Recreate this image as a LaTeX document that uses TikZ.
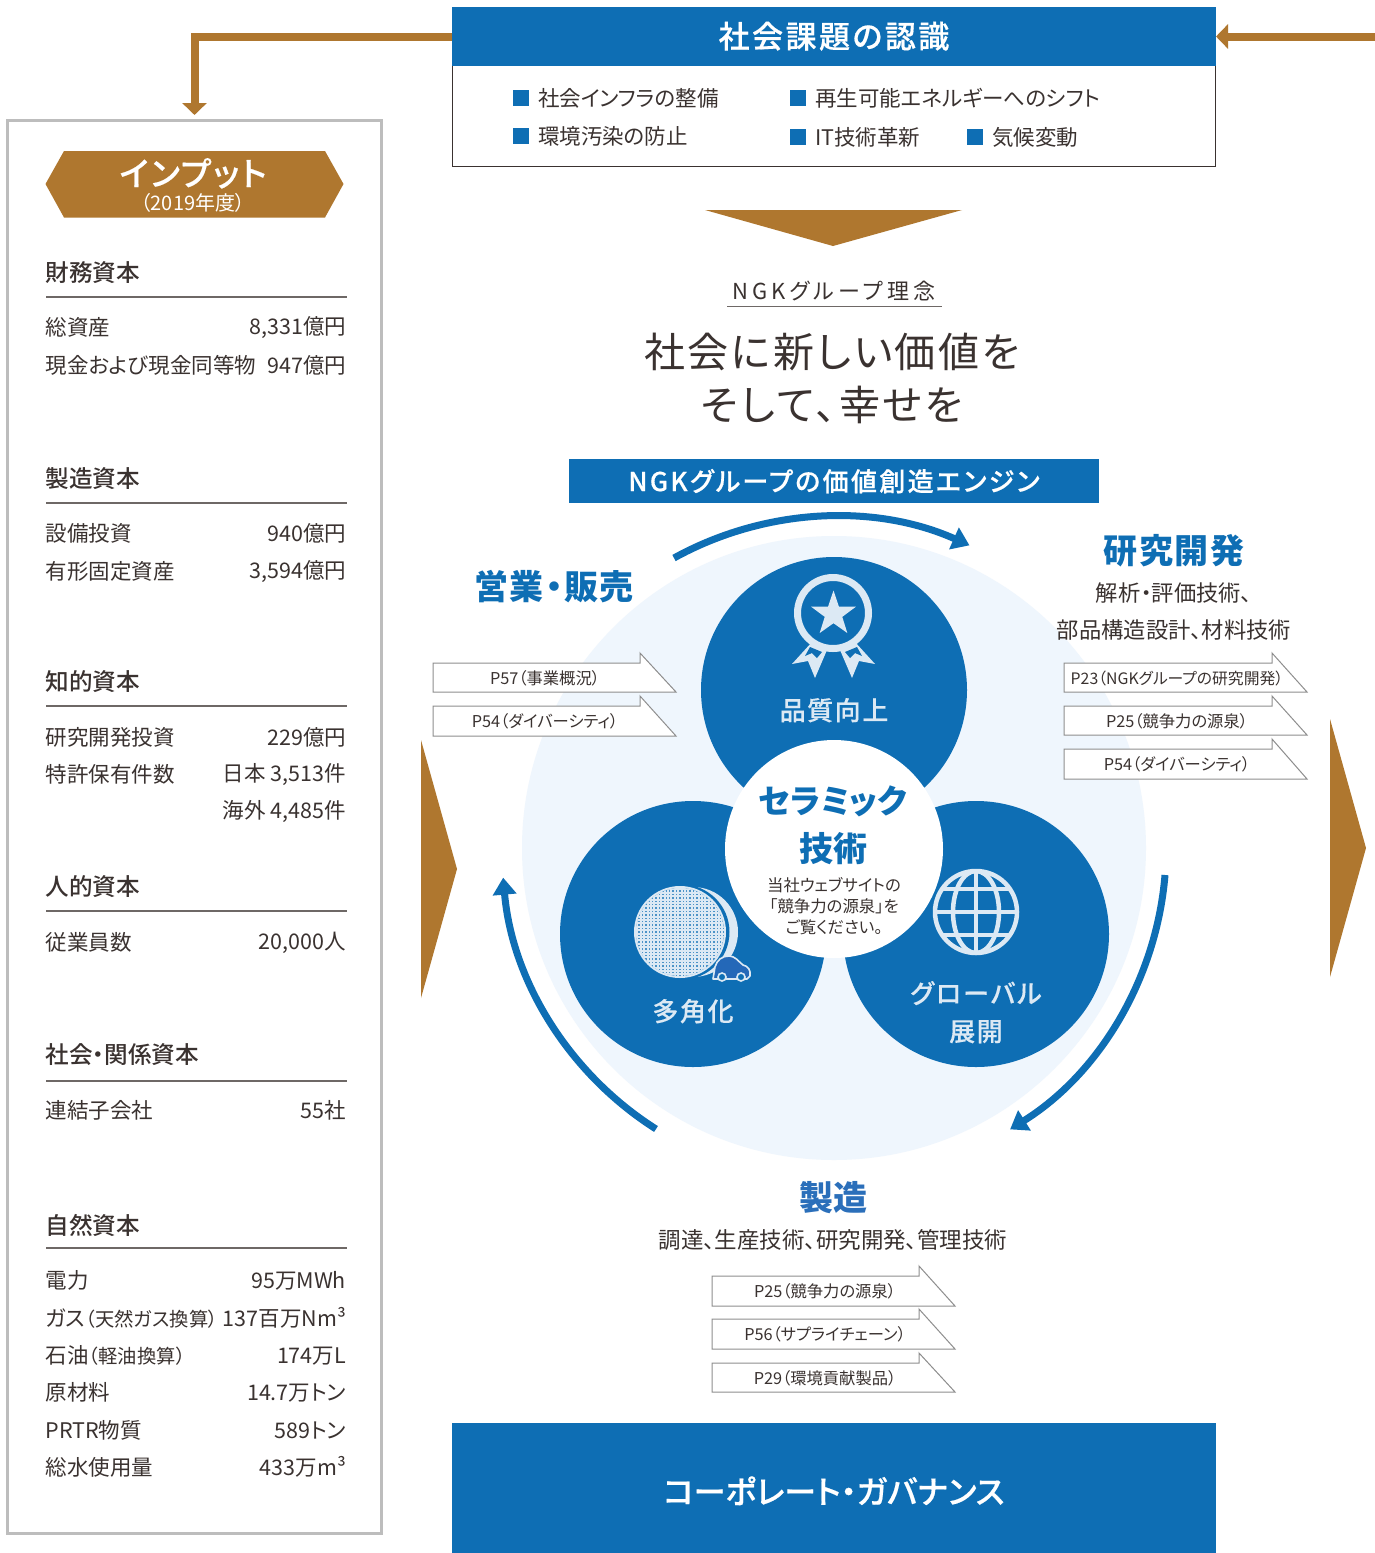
\documentclass[tikz,border=0pt]{standalone}
\usepackage{fontspec}
\setmainfont{Noto Sans CJK JP}[RawFeature=+palt]
\newfontfamily\medfont{Noto Sans CJK JP Medium}[RawFeature=+palt]
\newfontfamily\semifont{Noto Sans CJK JP Medium}[RawFeature=+palt,FakeBold=0.5]
\newfontfamily\iconfont{Noto Sans CJK JP Medium}[RawFeature=+palt,FakeBold=0.25]
\usetikzlibrary{arrows.meta,shapes.geometric,positioning}
\definecolor{nblue}{HTML}{0E6EB4}
\definecolor{nbluealt}{HTML}{2B6FBA}
\definecolor{ngold}{HTML}{AF772F}
\definecolor{npale}{HTML}{EFF6FD}
\definecolor{nlight}{HTML}{DCE9F4}
\definecolor{ninkk}{HTML}{3A3230}
\definecolor{nrule}{HTML}{6E6866}
\definecolor{nbord}{HTML}{BDBDBD}
\definecolor{npent}{HTML}{8E8E8E}
\definecolor{ncar}{HTML}{2468B8}
\newcommand\fsz[1]{\fontsize{#1}{#1}\selectfont}
\newcommand\spc[1]{\addfontfeature{LetterSpace=#1}}
\tikzset{
  x=1pt,y=-1pt,
  tx/.style={inner sep=0pt,outer sep=0pt,text=ninkk,execute at begin node={\rule[-.07em]{0pt}{.93em}}},
  bluebold/.style={tx,text=nblue,font=\fsz{#1}\bfseries},
  whitebold/.style={tx,text=white,font=\fsz{#1}\semifont},
  icontext/.style={tx,text=nlight,font=\fsz{26}\iconfont},
  body/.style={tx,font=\fsz{#1}},
  rowleft/.style={tx,anchor=west,font=\fsz{21.5}},
  rowright/.style={tx,anchor=east,font=\fsz{21.5}},
  sechead/.style={tx,anchor=west,font=\fsz{23.6}\medfont},
  secrule/.style={draw=nrule,line width=1.1pt},
  pent/.style={fill=white,draw=npent,line width=1pt,line join=miter},
  goldarrow/.style={draw=ngold,line width=8pt,-{Triangle[width=24pt,length=12pt]}},
  cyc/.style={draw=nblue,line width=7pt,-{Triangle[width=23pt,length=17pt]}},
  bul/.style={fill=nblue},
  boxnode/.style={inner sep=0pt,outer sep=0pt,minimum width=#1},
  iconline/.style={draw=nlight,line width=4.5pt},
}
\newcommand\secblock[3]{% name, y text, title ; rule drawn separately
  \node[sechead] (#1) at (45.5,#2) {#3};
  \draw[secrule] (46,#2+25) -- (347,#2+25);}
\newcommand\inrow[4]{% name,y,left,right
  \node[rowleft] (#1l) at (45.5,#2) {#3};
  \node[rowright] (#1r) at (346,#2) {#4};}
\newcommand\pentagon[9]{% name,x0,x1,notchx,ytop,ybot,label,labelx,size
  \draw[pent] (#2,#5) -- (#4,#5) -- (#4,#5-10) -- (#3,#6) -- (#2,#6) -- cycle;
  \node[body=#9] (#1) at (#8,#5+15) {#7};}
\begin{document}
\begin{tikzpicture}
\useasboundingbox (0,0) rectangle (1375,1553);
\fill[white] (0,0) rectangle (1375,1553);
% Top box
\node[boxnode=763pt,minimum height=159pt,draw=ninkk,line width=1pt,anchor=north west,fill=white] (topbox) at (452,7) {};
\node[boxnode=764pt,minimum height=59pt,fill=nblue,anchor=north west] (tophead) at (452,7) {};
\node[whitebold=31] (toptitle) at (834,36) {\spc{8}社会課題の認識};
\foreach \nm/\bx/\by/\t in {a/513/98/社会インフラの整備,b/790/98/再生可能エネルギーへのシフト,c/513/136/環境汚染の防止,d/790/137/IT技術革新,e/967/137/気候変動}{
  \fill[bul] (\bx,\by-8) rectangle (\bx+16,\by+8);
  \node[body=21.5,anchor=west] (issue\nm) at (\bx+25,\by) {\t};
}
% Input box
\node[boxnode=374pt,minimum height=1413pt,draw=nbord,line width=3pt,anchor=north west,fill=white] (inputbox) at (7.5,120) {};
\coordinate (rightin) at (1375,36.5);
\draw[goldarrow,shorten >=5pt] (tophead.west) -| (inputbox.north);
\draw[goldarrow] (rightin) -- (tophead.east);
\fill[ngold] (45.5,184) -- (64,151) -- (325,151) -- (343.5,184) -- (325,217.5) -- (64,217.5) -- cycle;
\node[whitebold=33] (inputt) at (193,173) {\spc{6}インプット};
\node[tx,text=white,font=\fsz{20}] (inputy) at (193,203) {（2019年度）};
% Capital sections
\secblock{s1}{272}{財務資本}
\inrow{r1}{327}{総資産}{8,331億円}
\inrow{r2}{365}{現金および現金同等物}{947億円}
\secblock{s2}{478}{製造資本}
\inrow{r3}{533}{設備投資}{940億円}
\inrow{r4}{571}{有形固定資産}{3,594億円}
\secblock{s3}{681}{知的資本}
\inrow{r5}{737}{研究開発投資}{229億円}
\inrow{r6}{774}{特許保有件数}{日本 3,513件}
\node[rowright] (r7r) at (346,811) {海外 4,485件};
\secblock{s4}{886}{人的資本}
\inrow{r8}{942}{従業員数}{20,000人}
\node[sechead] (s5) at (45.5,1054) {社会・関係資本};
\draw[secrule] (46,1081) -- (347,1081);
\inrow{r9}{1110}{連結子会社}{55社}
\node[sechead] (s6) at (45.5,1225) {自然資本};
\draw[secrule] (46,1248) -- (347,1248);
\inrow{r10}{1280}{電力}{95万MWh}
\inrow{r11}{1318}{ガス\kern.4pt{\fsz{19.3}（天然ガス換算）}}{137百万Nm³}
\inrow{r12}{1355}{石油\kern.4pt{\fsz{19.3}（軽油換算）}}{174万L}
\inrow{r13}{1392}{原材料}{14.7万トン}
\inrow{r14}{1430}{PRTR物質}{589トン}
\inrow{r15}{1467}{総水使用量}{433万m³}
% Gold triangles
\fill[ngold] (705,210) -- (962,210) -- (833,246) -- cycle;
\fill[ngold] (421,740) -- (457,869) -- (421,998) -- cycle;
\fill[ngold] (1330,719) -- (1366,848) -- (1330,977) -- cycle;
% Philosophy
\node[body=22] (phil) at (834,291) {\spc{18}NGKグループ理念};
\draw[secrule,line width=1pt] (727,306) -- (942,306);
\node[body=41] (ph1) at (832,352) {\spc{6}社会に新しい価値を};
\node[body=41] (ph2) at (832,405) {\spc{7}そして、幸せを};
\node[boxnode=530pt,minimum height=44pt,fill=nblue,anchor=north west] (engine) at (569,459) {};
\node[whitebold=26] (enginet) at (834,481) {\spc{9}NGKグループの価値創造エンジン};
% Circles
\fill[npale] (834,848) circle[radius=312pt];
\fill[nblue] (834,690) circle[radius=133pt];
\fill[nblue] (693,934) circle[radius=133pt];
\fill[nblue] (976,934) circle[radius=133pt];
\fill[white] (834,849) circle[radius=109pt];
% Cycle arrows
\draw[cyc] (674,558) arc[start angle=118.9,end angle=66,radius=332pt];
\draw[cyc] (1165,875) arc[start angle=-4.7,end angle=-58,radius=332pt];
\draw[cyc] (656,1129) arc[start angle=237.6,end angle=185,radius=332pt];
% Medal icon
\draw[iconline,line width=7pt] (833,613) circle[radius=35.5pt];
\node[star,star points=5,star point ratio=2.55,fill=nlight,inner sep=0pt,minimum size=47pt] (medalstar) at (833.5,614) {};
\fill[nlight] (812,642) -- (792,664) -- (808,661) -- (815,678) -- (827,650) -- cycle;
\fill[nlight] (855,642) -- (875,664) -- (859,661) -- (852,678) -- (840,650) -- cycle;
\fill[nblue] (810,647) -- (805,656) -- (812,653) -- (817,658) -- (822,652) -- cycle;
\fill[nblue] (857,647) -- (862,656) -- (855,653) -- (850,658) -- (845,652) -- cycle;
\node[icontext] (q) at (834,710) {\spc{6}品質向上};
% Globe icon
\begin{scope}
  \clip (976,912) circle[radius=41pt];
  \draw[iconline] (976,912) ellipse[x radius=23pt,y radius=41pt];
  \draw[iconline] (976,870) -- (976,954);
  \draw[iconline] (934,912) -- (1018,912);
  \draw[iconline] (934,889) -- (1018,889);
  \draw[iconline] (934,935) -- (1018,935);
\end{scope}
\draw[iconline] (976,912) circle[radius=41pt];
\node[icontext] (g1) at (976,993) {\spc{8}グローバル};
\node[icontext] (g2) at (976,1031) {\spc{6}展開};
% Honeycomb icon
\fill[nlight] (693,932) circle[radius=45pt];
\fill[nblue] (682,932) circle[radius=47.5pt];
\fill[nlight] (680,932) circle[radius=46pt];
\begin{scope}
  \clip (680,932) circle[radius=44pt];
  \fill[nblue!70!nlight] (630,882) rectangle (730,982);
  \foreach \k in {0,...,27}{
    \draw[nlight,line width=2pt] (634+\k*3.4,884) -- (634+\k*3.4,980);
    \draw[nlight,line width=2pt] (634,886+\k*3.4) -- (730,886+\k*3.4);
  }
\end{scope}
\draw[nlight,line width=1.6pt,fill=ncar,line join=round] (713,979) -- (715,967) .. controls (717,960) and (722,956) .. (729,956) .. controls (735,956) and (738,961) .. (743,965) .. controls (748,966) and (751,970) .. (750,976) -- (747,979) -- cycle;
\fill[nblue] (722,977) circle[radius=4.5pt];
\draw[nlight,line width=1.6pt,fill=nblue] (722,977) circle[radius=4pt];
\draw[nlight,line width=1.6pt,fill=nblue] (741,977) circle[radius=4pt];
\node[icontext] (d) at (693,1011) {\spc{6}多角化};
% Centre
\node[bluebold=33] (c1) at (833,801) {セラミック};
\node[bluebold=34] (c2) at (833,849) {技術};
\node[body=16.4] (c3) at (834,885) {当社ウェブサイトの};
\node[body=16.4] (c4) at (834,906) {「競争力の源泉」を};
\node[body=16.4] (c5) at (834,927) {ご覧ください。};
% Sales
\node[bluebold=34] (sales) at (554,587) {\spc{5}営業・販売};
\pentagon{pa}{433}{676}{640}{663}{692}{P57（事業概況）}{545}{16.3}
\pentagon{pb}{433}{676}{640}{706}{736}{P54（ダイバーシティ）}{545}{16.3}
% R&D
\node[bluebold=34] (rd) at (1174,551) {\spc{5}研究開発};
\node[body=22.3] (rd1) at (1174,593) {解析・評価技術、};
\node[body=22.3] (rd2) at (1174,630) {部品構造設計、材料技術};
\pentagon{pc}{1064}{1307}{1272}{663}{692}{P23（NGKグループの研究開発）}{1177}{15.8}
\pentagon{pd}{1064}{1307}{1272}{706}{735}{P25（競争力の源泉）}{1177}{16.3}
\pentagon{pe}{1064}{1307}{1272}{749}{779}{P54（ダイバーシティ）}{1177}{16.3}
% Manufacturing
\node[tx,text=nbluealt,font=\fsz{34}\bfseries] (mf) at (833,1198) {製造};
\node[body=22.5] (mf1) at (833,1240) {調達、生産技術、研究開発、管理技術};
\pentagon{pf}{712}{955}{919}{1276}{1306}{P25（競争力の源泉）}{825}{16.3}
\pentagon{pg}{712}{955}{919}{1319}{1349}{P56（サプライチェーン）}{825}{16.3}
\pentagon{ph}{712}{955}{919}{1363}{1392}{P29（環境貢献製品）}{825}{16.3}
% Governance
\node[boxnode=764pt,minimum height=130pt,fill=nblue,anchor=north west] (gov) at (452,1423) {};
\node[whitebold=32] (govt) at (834,1491) {コーポレート・ガバナンス};
\end{tikzpicture}
\end{document}
